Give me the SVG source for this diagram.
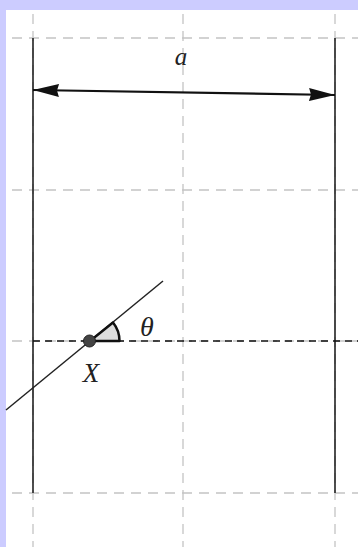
<svg xmlns="http://www.w3.org/2000/svg" width="358" height="547" viewBox="0 0 358 547">
<style>
.grid{stroke:#c4c4c4;stroke-width:1.3;stroke-dasharray:10 7;fill:none}
.wall{stroke:#222;stroke-width:1.6;fill:none}
.lbl{font-family:"Liberation Serif",serif;font-style:italic;fill:#222}
</style>
<defs>
<marker id="ah" viewBox="0 0 26 14" refX="26" refY="7" markerWidth="26" markerHeight="14" markerUnits="userSpaceOnUse" orient="auto-start-reverse">
<path d="M0,0.5 L26,7 L0,13.5 L2,7 Z" fill="#111"/>
</marker>
</defs>
<rect x="0" y="0" width="358" height="547" fill="#ccccff"/>
<rect x="6" y="10" width="352" height="537" fill="#ffffff"/>
<g id="grid">
<line class="grid" x1="12" y1="38" x2="358" y2="38"/>
<line class="grid" x1="12" y1="190" x2="358" y2="190"/>
<line class="grid" x1="12" y1="341" x2="358" y2="341"/>
<line class="grid" x1="12" y1="493" x2="358" y2="493"/>
<line class="grid" x1="33" y1="14" x2="33" y2="547"/>
<line class="grid" x1="183" y1="14" x2="183" y2="547"/>
<line class="grid" x1="335" y1="14" x2="335" y2="547"/>
</g>
<g id="walls">
<line class="wall" x1="33" y1="38" x2="33" y2="493"/>
<line class="wall" x1="335" y1="38" x2="335" y2="493"/>
</g>
<g id="connectors">
<line x1="33" y1="90" x2="335" y2="95" stroke="#111" stroke-width="2.2" marker-start="url(#ah)" marker-end="url(#ah)"/>
<line x1="33" y1="341" x2="358" y2="341" stroke="#111" stroke-width="1.5" stroke-dasharray="7 5"/>
<line x1="6" y1="410" x2="163" y2="281" stroke="#222" stroke-width="1.5"/>
</g>
<g id="angle">
<path d="M90,341 L119.5,341 A29.5,29.5 0 0 0 113,322.5 Z" fill="#dddddd" stroke="#111" stroke-width="2.5" stroke-linejoin="round"/>
</g>
<g id="X">
<circle cx="89.5" cy="341" r="6" fill="#444" stroke="#222" stroke-width="1"/>
<text class="lbl" x="91" y="382" font-size="27" text-anchor="middle">X</text>
</g>
<text class="lbl" x="147" y="336" font-size="28" text-anchor="middle">θ</text>
<text class="lbl" x="181" y="65" font-size="25" text-anchor="middle">a</text>
</svg>
